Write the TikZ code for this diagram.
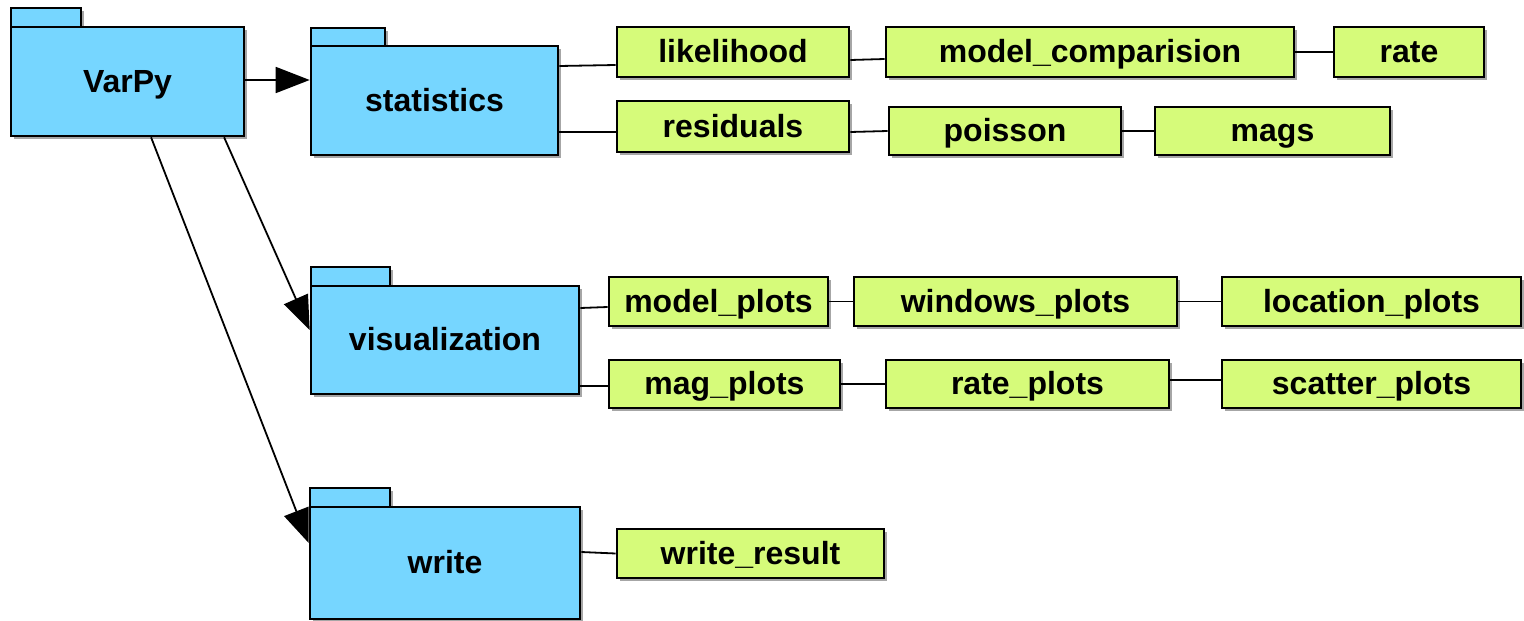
\documentclass[tikz,border=0pt]{standalone}
\usepackage{fontspec}
\setmainfont{Liberation Sans}
\usetikzlibrary{shadows,arrows.meta,calc}
\definecolor{pkgblue}{RGB}{118,214,255}
\definecolor{leafgreen}{RGB}{214,251,122}
\tikzset{
  shad/.style={drop shadow={shadow xshift=3pt,shadow yshift=-3pt,opacity=0.35,fill=black}},
  pkg/.style={rectangle,draw=black,line width=2.6pt,fill=pkgblue,inner sep=0pt,shad,
    text height=26pt,text depth=5pt,
    font=\fontsize{32}{36}\selectfont\bfseries},
  pkgtab/.style={draw=black,line width=2.6pt,fill=pkgblue,shad},
  leaf/.style={rectangle,draw=black,line width=2.6pt,fill=leafgreen,inner sep=0pt,shad,
    text height=26pt,text depth=5pt,
    font=\fontsize{32}{36}\selectfont\bfseries},
  link/.style={draw=black,line width=1.8pt},
  dep/.style={draw=black,line width=1.8pt,-{Triangle[length=34pt,width=26pt]}}
}
\begin{document}
\begin{tikzpicture}[x=1pt,y=-1pt]
\useasboundingbox (0,0) rectangle (1524,621);
% tabs
\path[pkgtab] (11,8) rectangle (81,27);
\path[pkgtab] (311,28) rectangle (385,46);
\path[pkgtab] (311,267) rectangle (390,286);
\path[pkgtab] (310,488) rectangle (390,507);
% packages
\node[pkg,minimum width=233pt,minimum height=109pt] (varpy) at (127.5,81.5) {VarPy};
\node[pkg,minimum width=247pt,minimum height=109pt] (stats) at (434.5,100.5) {statistics};
\node[pkg,minimum width=268pt,minimum height=108pt] (vis) at (445,340) {visualization};
\node[pkg,minimum width=270pt,minimum height=112pt] (write) at (445,563) {write};
% leaves
\node[leaf,minimum width=232pt,minimum height=50pt] (likelihood) at (733,52) {likelihood};
\node[leaf,minimum width=408pt,minimum height=50pt] (modelcomp) at (1090,52) {model\_comparision};
\node[leaf,minimum width=150pt,minimum height=50pt] (rate) at (1409,52) {rate};
\node[leaf,minimum width=232pt,minimum height=51pt] (residuals) at (733,126.5) {residuals};
\node[leaf,minimum width=232pt,minimum height=48pt] (poisson) at (1005,131) {poisson};
\node[leaf,minimum width=235pt,minimum height=48pt] (mags) at (1272.5,131) {mags};
\node[leaf,minimum width=219pt,minimum height=49pt] (modelplots) at (718.5,301.5) {model\_plots};
\node[leaf,minimum width=323pt,minimum height=49pt] (windowsplots) at (1015.5,301.5) {windows\_plots};
\node[leaf,minimum width=299pt,minimum height=49pt] (locationplots) at (1371.5,301.5) {location\_plots};
\node[leaf,minimum width=231pt,minimum height=48pt] (magplots) at (724.5,384) {mag\_plots};
\node[leaf,minimum width=283pt,minimum height=48pt] (rateplots) at (1027.5,384) {rate\_plots};
\node[leaf,minimum width=299pt,minimum height=48pt] (scatterplots) at (1371.5,384) {scatter\_plots};
\node[leaf,minimum width=267pt,minimum height=49pt] (writeresult) at (750.5,553.5) {write\_result};
% dependency arrows
\draw[dep] ([yshift=1.5pt]varpy.east) -- ([yshift=20.5pt]stats.west);
\draw[dep] ($(varpy.south west)!0.91!(varpy.south east)$) -- ([yshift=10pt]vis.west);
\draw[dep] ($(varpy.south west)!0.6!(varpy.south east)$) -- ([yshift=20pt]write.west);
% links
\draw[link] ([yshift=34.5pt]stats.east) -- ([yshift=-13pt]likelihood.west);
\draw[link] ([yshift=-31.5pt]stats.east) -- ([yshift=-5.5pt]residuals.west);
\draw[link] ([yshift=-8pt]likelihood.east) -- ([yshift=-7pt]modelcomp.west);
\draw[link] (modelcomp.east) -- (rate.west);
\draw[link] ([yshift=-5.5pt]residuals.east) -- (poisson.west);
\draw[link] (poisson.east) -- (mags.west);
\draw[link] ([yshift=32pt]vis.east) -- ([yshift=-5.5pt]modelplots.west);
\draw[link] ([yshift=-46pt]vis.east) -- ([yshift=-2pt]magplots.west);
\draw[link] (modelplots.east) -- (windowsplots.west);
\draw[link] (windowsplots.east) -- (locationplots.west);
\draw[link] (magplots.east) -- (rateplots.west);
\draw[link] ([yshift=4pt]rateplots.east) -- ([yshift=4pt]scatterplots.west);
\draw[link] ([yshift=11pt]write.east) -- (writeresult.west);
\end{tikzpicture}
\end{document}
